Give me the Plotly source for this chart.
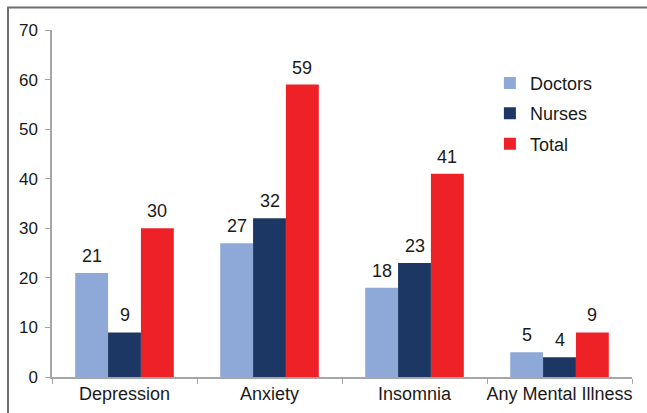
import plotly.graph_objects as go

categories = ["Depression", "Anxiety", "Insomnia", "Any Mental Illness"]
doctors = [21, 27, 18, 5]
nurses = [9, 32, 23, 4]
total = [30, 59, 41, 9]
y_ticks = [0, 10, 20, 30, 40, 50, 60, 70]

series = [
    ("Doctors", doctors, "#8EA9D8"),
    ("Nurses", nurses, "#1C3763"),
    ("Total", total, "#EE2127"),
]

FAMILY = "Liberation Sans, Arial, sans-serif"
INK = "#1a1a1a"

WIDTH, HEIGHT = 647, 413
MARGIN = dict(l=52, r=15, t=30, b=36)
BARGAP = 0.32

fig = go.Figure()
for name, vals, color in series:
    fig.add_trace(go.Bar(
        name=name, x=categories, y=vals, legendgroup=name,
        marker=dict(color=color, line=dict(width=0)),
    ))

# value labels sit a little above each bar
plot_w = WIDTH - MARGIN["l"] - MARGIN["r"]
bar_px = plot_w / len(categories) * (1 - BARGAP) / len(series)
annotations = []
for i, (name, vals, color) in enumerate(series):
    shift = (i - (len(series) - 1) / 2) * bar_px
    for cat, v in zip(categories, vals):
        annotations.append(dict(
            x=cat, y=v, xref="x", yref="y", text=str(v), showarrow=False,
            xanchor="center", yanchor="bottom", xshift=shift, yshift=5,
            font=dict(family=FAMILY, size=18, color=INK),
        ))

fig.update_layout(
    width=WIDTH, height=HEIGHT,
    margin=dict(**MARGIN, autoexpand=False),
    paper_bgcolor="white", plot_bgcolor="white",
    font=dict(family=FAMILY, size=18, color=INK),
    barmode="group", bargap=BARGAP, bargroupgap=0,
    showlegend=True,
    legend=dict(x=0.755, y=0.9, xanchor="left", yanchor="top",
                font=dict(family=FAMILY, size=18, color=INK),
                bgcolor="rgba(0,0,0,0)", traceorder="grouped",
                tracegroupgap=4, itemwidth=30),
    xaxis=dict(showline=True, linecolor="#a6a6a6", linewidth=1.5,
               ticks="outside", ticklen=5, tickcolor="#a6a6a6",
               tickson="boundaries", showgrid=False,
               tickangle=0, automargin=False,
               tickfont=dict(family=FAMILY, size=18, color=INK)),
    yaxis=dict(range=[0, 70], tickvals=y_ticks, showline=True,
               linecolor="#a6a6a6", linewidth=1.5,
               ticks="outside", ticklen=5, tickcolor="#a6a6a6",
               showgrid=False, zeroline=False, automargin=False,
               tickfont=dict(family=FAMILY, size=17, color=INK),
               ticklabelstandoff=4),
    annotations=annotations,
    shapes=[dict(type="rect", xref="paper", yref="paper",
                 x0=(8 - 52) / 580, x1=1.3, y0=-0.4, y1=(377 - 7.5) / 347,
                 line=dict(color="#6e6e6e", width=2), layer="below")],
)

fig.write_html("out.html")
